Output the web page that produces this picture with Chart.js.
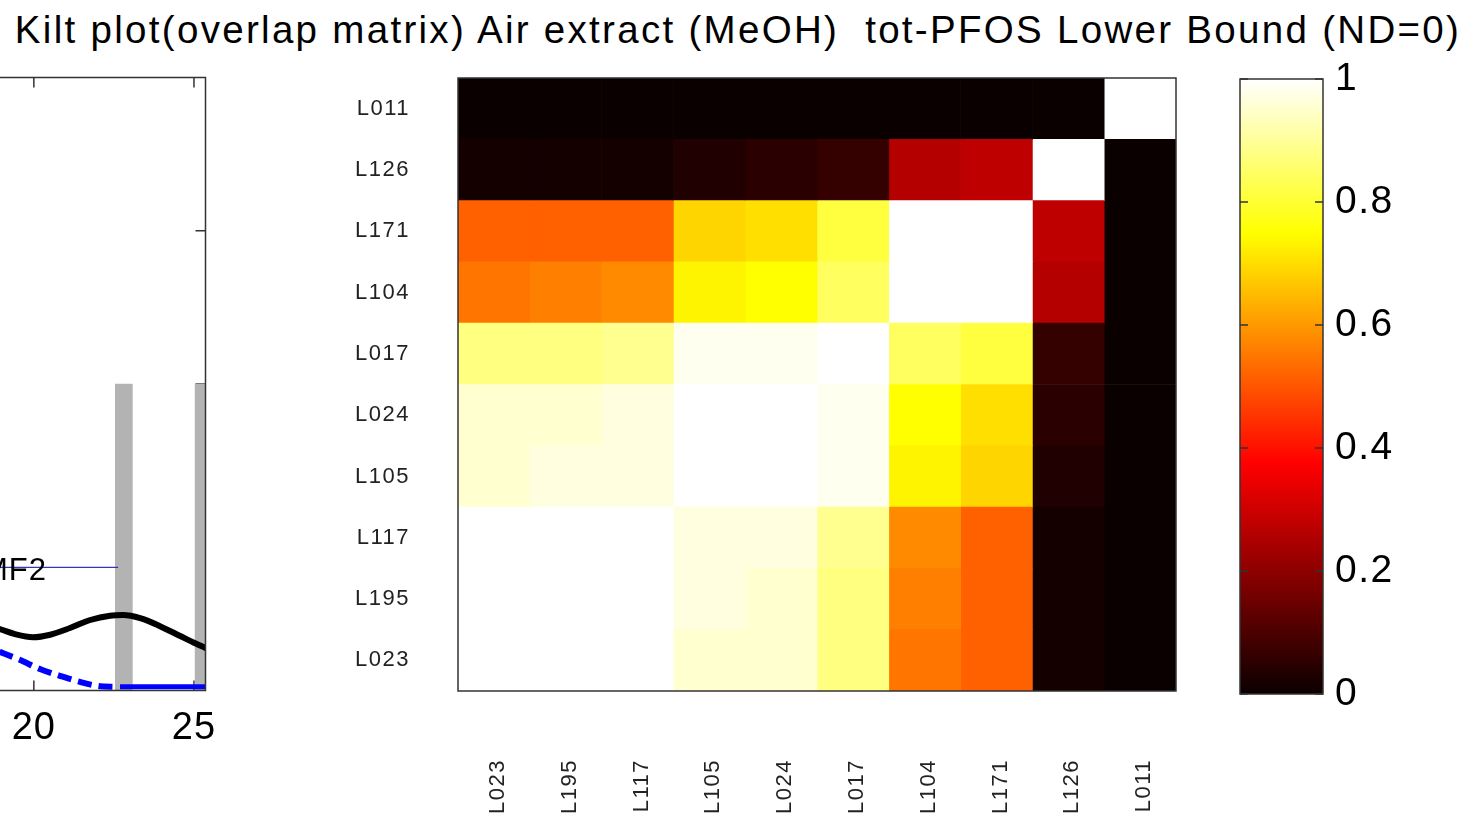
<!DOCTYPE html>
<html>
<head>
<meta charset="utf-8">
<script src="https://cdn.jsdelivr.net/npm/chart.js@4.4.0/dist/chart.umd.min.js"></script>
<style>
  body { margin: 0; background: #fff; }
  #page { position: relative; width: 1468px; height: 818px; overflow: hidden; font-family: "Liberation Sans", Arial, sans-serif; }
  canvas { position: absolute; top: 0; }
  #title { position: absolute; left: 4px; top: 11px; width: 1468px; text-align: center; font-size: 38.5px; letter-spacing: 2.3px; line-height: 1; white-space: pre; color: #000; }
</style>
</head>
<body>
<div id="page">
  <div id="title"></div>
  <canvas id="peaks" width="560" height="818" style="left:-300px"></canvas>
  <canvas id="kilt" width="920" height="818" style="left:300px"></canvas>
  <canvas id="cbar" width="268" height="818" style="left:1200px"></canvas>
</div>
<script>
const titleText = 'Kilt plot(overlap matrix) Air extract (MeOH)  tot-PFOS Lower Bound (ND=0)';

// overlap matrix, rows top -> bottom, columns left -> right
const rowLabels = ['L011', 'L126', 'L171', 'L104', 'L017', 'L024', 'L105', 'L117', 'L195', 'L023'];
const colLabels = ['L023', 'L195', 'L117', 'L105', 'L024', 'L017', 'L104', 'L171', 'L126', 'L011'];
const overlap = [
  [0,     0,     0,     0,     0,     0,     0,     0,     0,     1],
  [0.023, 0.023, 0.023, 0.04,  0.055, 0.07,  0.258, 0.273, 1,     0],
  [0.51,  0.51,  0.515, 0.68,  0.69,  0.805, 1,     1,     0.273, 0],
  [0.54,  0.555, 0.57,  0.727, 0.742, 0.836, 1,     1,     0.258, 0],
  [0.867, 0.867, 0.883, 0.97,  0.97,  1,     0.836, 0.805, 0.07,  0],
  [0.945, 0.95,  0.96,  1,     1,     0.97,  0.742, 0.69,  0.055, 0],
  [0.945, 0.96,  0.96,  1,     1,     0.97,  0.727, 0.68,  0.04,  0],
  [1,     1,     1,     0.96,  0.96,  0.883, 0.57,  0.51,  0.023, 0],
  [1,     1,     1,     0.96,  0.95,  0.867, 0.555, 0.50,  0.023, 0],
  [1,     1,     1,     0.945, 0.945, 0.867, 0.54,  0.50,  0.023, 0]
];

// colour bar
const cbarRange = [0, 1];
const cbarTicks = [0, 0.2, 0.4, 0.6, 0.8, 1];

// left panel (cut off in the figure)
const fitX  = [18.32, 18.94, 19.41, 19.97, 20.51, 21.13, 21.76, 22.38, 22.79, 23.32, 23.94, 24.57, 25.04, 25.38];
const fitY  = [0.108, 0.100, 0.092, 0.087, 0.091, 0.102, 0.115, 0.122, 0.123, 0.118, 0.105, 0.089, 0.077, 0.069];
const tailX = [18.32, 18.94, 19.56, 20.19, 20.81, 21.44, 22.06, 22.54];
const tailY = [0.076, 0.063, 0.050, 0.035, 0.024, 0.014, 0.007, 0.006];
const baseX = [22.69, 25.5];
const baseY = [0.006, 0.006];
const peakX = [22.81, 25.3];
const peakH = [0.5, 0.5];
const mfText = 'MF2';
const mfTextAt = [20.41, 0.18];
const mfLineX = [17.5, 22.63];
const mfLineY = [0.201, 0.201];
const peakTicksX = [15, 20, 25];
const peakTicksY = [0.25, 0.5, 0.75];

document.getElementById('title').textContent = titleText;

const FONT = 'Liberation Sans';

// matlab "hot" colormap, 64 entries
function hot(v) {
  const m = 64, n = 24;
  const i = Math.min(m - 1, Math.max(0, Math.floor(v * m)));
  const r = i < n ? (i + 1) / n : 1;
  const g = i < n ? 0 : i < 2 * n ? (i - n + 1) / n : 1;
  const b = i < 2 * n ? 0 : (i - 2 * n + 1) / (m - 2 * n);
  return `rgb(${Math.round(r * 255)},${Math.round(g * 255)},${Math.round(b * 255)})`;
}

const frame = {
  id: 'frame',
  afterDatasetsDraw(chart) {
    const { ctx, chartArea: a } = chart;
    ctx.save();
    ctx.strokeStyle = '#333';
    ctx.lineWidth = 1.5;
    ctx.strokeRect(a.left, a.top, a.right - a.left, a.bottom - a.top);
    ctx.restore();
  }
};

// matlab text is spaced a little wider than canvas text
const spacing = px => ({
  id: 'spacing',
  beforeInit(chart) { chart.ctx.letterSpacing = px; },
  beforeDraw(chart) { chart.ctx.letterSpacing = px; }
});

// ---------- kilt plot ----------
const heatSets = colLabels.map((name, c) => ({
  label: name,
  data: rowLabels.map(() => [c, c + 1]),
  backgroundColor: rowLabels.map((_, r) => hot(overlap[r][c])),
  borderWidth: 0,
  barPercentage: 1,
  categoryPercentage: 1,
  grouped: false
}));

new Chart(document.getElementById('kilt'), {
  type: 'bar',
  data: { labels: rowLabels, datasets: heatSets },
  options: {
    indexAxis: 'y',
    responsive: false,
    animation: false,
    layout: { padding: { top: 78, right: 44, bottom: 0, left: 0 } },
    plugins: { legend: { display: false }, tooltip: { enabled: false } },
    scales: {
      x: { type: 'linear', min: 0, max: colLabels.length, display: false },
      x2: {
        type: 'category', labels: colLabels, position: 'bottom', offset: true,
        grid: { display: false, drawTicks: false }, border: { display: false },
        ticks: { autoSkip: false, minRotation: 90, maxRotation: 90, padding: 68, labelOffset: 4, color: '#222', font: { family: FONT, size: 22 } },
        afterFit: s => { s.height = 127; s.paddingLeft = 0; s.paddingRight = 0; }
      },
      y: {
        type: 'category', offset: true,
        grid: { display: false, drawTicks: false }, border: { display: false },
        ticks: { padding: 48, color: '#222', font: { family: FONT, size: 22 } },
        afterFit: s => { s.width = 158; s.paddingTop = 0; s.paddingBottom = 0; }
      }
    }
  },
  plugins: [spacing('1.5px'), frame]
});

// ---------- colour bar ----------
const cbarTickMarks = {
  id: 'cbarTickMarks',
  afterDatasetsDraw(chart) {
    const { ctx, chartArea: a, scales } = chart;
    ctx.save();
    ctx.strokeStyle = '#333';
    ctx.lineWidth = 1.5;
    cbarTicks.forEach(t => {
      const y = scales.y.getPixelForValue(t);
      ctx.beginPath();
      ctx.moveTo(a.left, y); ctx.lineTo(a.left + 8, y);
      ctx.moveTo(a.right, y); ctx.lineTo(a.right - 8, y);
      ctx.stroke();
    });
    ctx.restore();
  }
};

new Chart(document.getElementById('cbar'), {
  type: 'bar',
  data: {
    labels: [''],
    datasets: [{
      data: [cbarRange],
      backgroundColor: c => {
        const chart = c.chart;
        if (!chart.chartArea) return '#000';
        const y = chart.scales.y;
        const g = chart.ctx.createLinearGradient(0, y.getPixelForValue(0), 0, y.getPixelForValue(1));
        g.addColorStop(0, '#0b0000');
        g.addColorStop(0.375, '#ff0000');
        g.addColorStop(0.75, '#ffff00');
        g.addColorStop(1, '#ffffff');
        return g;
      },
      borderWidth: 0,
      barPercentage: 1,
      categoryPercentage: 1
    }]
  },
  options: {
    responsive: false,
    animation: false,
    layout: { padding: { top: 79, left: 40, bottom: 124, right: 0 } },
    plugins: { legend: { display: false }, tooltip: { enabled: false } },
    scales: {
      x: { display: false },
      y: {
        position: 'right', min: 0, max: 1,
        grid: { display: false, drawTicks: false }, border: { display: false },
        ticks: {
          stepSize: 0.2, padding: 12, color: '#000', font: { family: FONT, size: 39 },
          callback: v => String(Number(v.toFixed(1)))
        },
        afterFit: s => { s.width = 145; }
      }
    }
  },
  plugins: [spacing('1.5px'), frame, cbarTickMarks]
});

// ---------- left panel ----------
const peakTickMarks = {
  id: 'peakTickMarks',
  beforeDatasetsDraw(chart) {
    const { ctx, chartArea: a, scales } = chart;
    ctx.save();
    ctx.strokeStyle = '#333';
    ctx.lineWidth = 1.5;
    ctx.beginPath();
    peakTicksX.forEach(t => {
      const x = scales.x.getPixelForValue(t);
      ctx.moveTo(x, a.bottom); ctx.lineTo(x, a.bottom - 10);
      ctx.moveTo(x, a.top); ctx.lineTo(x, a.top + 10);
    });
    peakTicksY.forEach(t => {
      const y = scales.y.getPixelForValue(t);
      ctx.moveTo(a.right, y); ctx.lineTo(a.right - 10, y);
    });
    ctx.stroke();
    ctx.restore();
  },
  afterDatasetsDraw(chart) {
    const { ctx, scales } = chart;
    ctx.save();
    ctx.fillStyle = '#000';
    ctx.font = `31px "${FONT}"`;
    ctx.textAlign = 'right';
    ctx.textBaseline = 'alphabetic';
    ctx.fillText(mfText, scales.x.getPixelForValue(mfTextAt[0]), scales.y.getPixelForValue(mfTextAt[1]));
    ctx.restore();
  }
};

const xy = (xs, ys) => xs.map((x, i) => ({ x, y: ys[i] }));

new Chart(document.getElementById('peaks'), {
  type: 'line',
  data: {
    datasets: [
      { data: xy(mfLineX, mfLineY), borderColor: '#3535b5', borderWidth: 1.2, pointRadius: 0 },
      { data: xy(fitX, fitY), borderColor: '#000', borderWidth: 6, pointRadius: 0, cubicInterpolationMode: 'monotone' },
      { data: xy(tailX, tailY), borderColor: '#0000ff', borderWidth: 6, borderDash: [14, 7], pointRadius: 0, cubicInterpolationMode: 'monotone' },
      { data: xy(baseX, baseY), borderColor: '#0000ff', borderWidth: 5, pointRadius: 0 },
      { type: 'bar', data: xy(peakX, peakH), backgroundColor: '#b3b3b3', barThickness: 17, order: 5 }
    ]
  },
  options: {
    responsive: false,
    animation: false,
    layout: { padding: { top: 77.5, left: 20, right: 54.5, bottom: 0 } },
    plugins: { legend: { display: false }, tooltip: { enabled: false } },
    scales: {
      x: {
        type: 'linear', min: 10.2, max: 25.36, offset: false,
        grid: { display: false, drawTicks: false }, border: { display: false },
        ticks: { stepSize: 5, includeBounds: false, padding: 15, color: '#000', font: { family: FONT, size: 38 } },
        afterFit: s => { s.height = 127.5; }
      },
      y: { type: 'linear', min: 0, max: 1, display: false }
    }
  },
  plugins: [spacing('1px'), frame, peakTickMarks]
});
</script>
</body>
</html>
